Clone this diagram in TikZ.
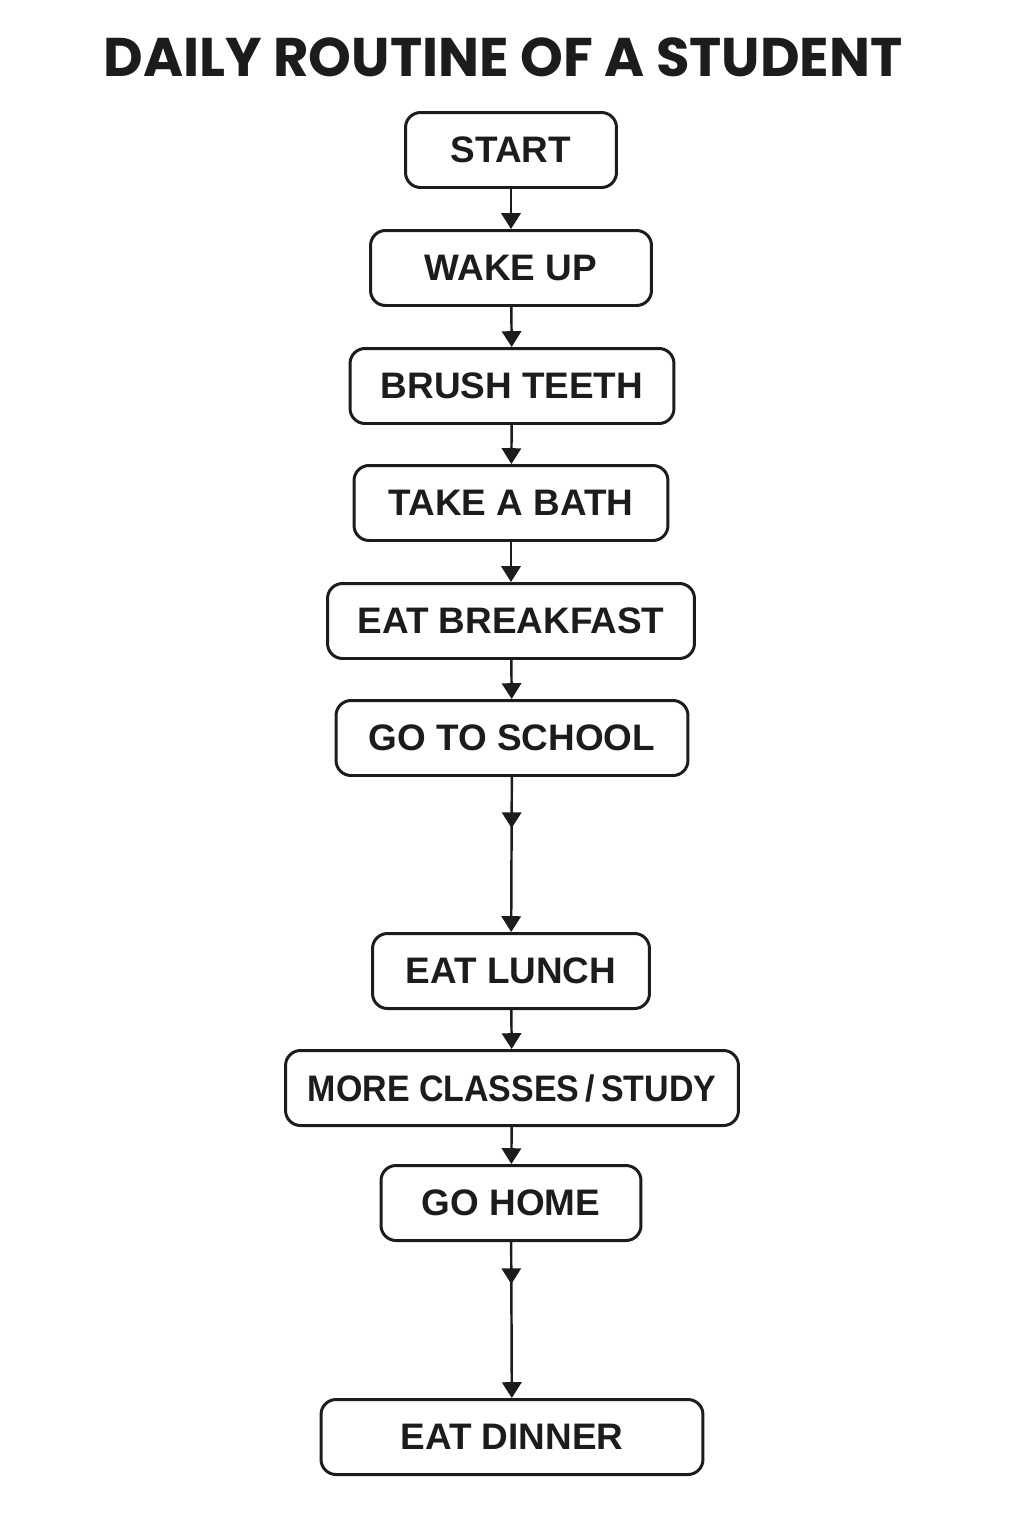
\documentclass[tikz,border=0pt]{standalone}
\usepackage{fontspec}
\setmainfont{Liberation Sans}
\newfontfamily\titlefont{Poppins}
\usetikzlibrary{arrows.meta,decorations.markings}
\definecolor{ink}{RGB}{28,28,28}
\tikzset{
  stepbox/.style={draw=ink, line width=1.7pt, rounded corners=0.3cm, fill=white,
    minimum height=1.5cm, inner sep=0pt, font=\fontsize{21}{25}\selectfont\bfseries, text=ink},
  flow/.style={draw=ink, line width=1.4pt, -{Triangle[width=11pt,length=9pt]}},
  midflow/.style={flow, postaction={decorate}, decoration={markings,
    mark=at position #1 with {\arrow{Triangle[width=11pt,length=9pt]}}}}
}
\begin{document}
\begin{tikzpicture}[x=0.02cm,y=-0.02cm]
  \useasboundingbox (0,0) rectangle (1024,1536);
  \node[font=\titlefont\fontsize{31}{37}\selectfont\bfseries, text=ink] (title) at (503,57) {DAILY ROUTINE OF A STUDENT};
  \node[stepbox, minimum width=4.22cm] (start) at (511,150) {START};
  \node[stepbox, minimum width=5.62cm] (wake) at (511,268) {WAKE UP};
  \node[stepbox, minimum width=6.48cm] (brush) at (512,386) {BRUSH TEETH};
  \node[stepbox, minimum width=6.28cm] (bath) at (511,503) {TAKE A BATH};
  \node[stepbox, minimum width=7.34cm] (breakfast) at (511,621) {EAT BREAKFAST};
  \node[stepbox, minimum width=7.04cm] (school) at (512,738) {GO TO SCHOOL};
  \node[stepbox, minimum width=5.54cm] (lunch) at (511,971) {EAT LUNCH};
  \node[stepbox, minimum width=9.06cm] (classes) at (512,1088) {\addfontfeature{FakeStretch=0.92}MORE CLASSES\,/\,STUDY};
  \node[stepbox, minimum width=5.20cm] (home) at (511,1203) {GO HOME};
  \node[stepbox, minimum width=7.64cm] (dinner) at (512,1437) {EAT DINNER};
  \draw[flow] (start) -- (wake);
  \draw[flow] (wake) -- (brush);
  \draw[flow] (brush) -- (bath);
  \draw[flow] (bath) -- (breakfast);
  \draw[flow] (breakfast) -- (school);
  \draw[midflow=0.33] (school) -- (lunch);
  \draw[flow] (lunch) -- (classes);
  \draw[flow] (classes) -- (home);
  \draw[midflow=0.27] (home) -- (dinner);
\end{tikzpicture}
\end{document}
